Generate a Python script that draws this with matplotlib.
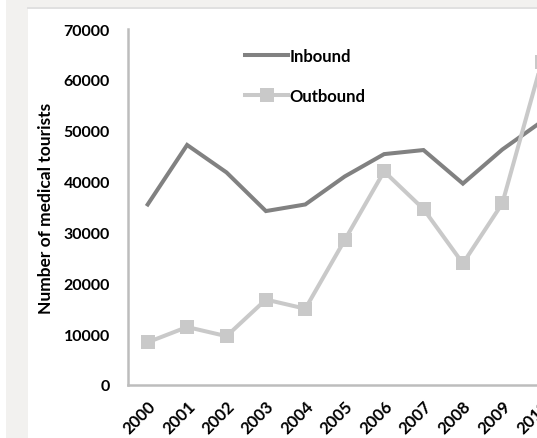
import matplotlib
matplotlib.use("Agg")
import matplotlib.pyplot as plt
from matplotlib.patches import Rectangle
from matplotlib.lines import Line2D

# annual medical tourist counts
years = ["2000", "2001", "2002", "2003", "2004", "2005",
         "2006", "2007", "2008", "2009", "2010"]
inbound = [35500, 47200, 41800, 34200, 35500, 41000,
           45400, 46200, 39600, 46300, 51800]
outbound = [8400, 11400, 9600, 16800, 15000, 28500,
            42000, 34600, 23900, 35700, 63500]
yticks = [0, 10000, 20000, 30000, 40000, 50000, 60000, 70000]

W, H = 537, 439
plt.rcParams['font.family'] = ['Lato', 'DejaVu Sans']
fig = plt.figure(figsize=(W / 100, H / 100), dpi=100)
fig.patch.set_facecolor('white')

# grey page margin around the white panel
bg = '#f2f1ef'
fig.patches.append(Rectangle((6 / W, 0), 22 / W, 1, transform=fig.transFigure,
                             facecolor=bg, edgecolor='none', zorder=0))
fig.patches.append(Rectangle((6 / W, 1 - 8 / H), 1, 8 / H, transform=fig.transFigure,
                             facecolor=bg, edgecolor='none', zorder=0))
fig.add_artist(Line2D([28 / W, 1], [1 - 8.5 / H, 1 - 8.5 / H], transform=fig.transFigure,
                      color='#dadada', lw=1.2))

left, bottom, top = 128, 386, 30
slot = 39.4
ax = fig.add_axes([left / W, (H - bottom) / H, 11 * slot / W, (bottom - top) / H])
ax.set_facecolor('none')

x = list(range(len(years)))
ax.plot(x, inbound, color='#818181', lw=2.9, label='Inbound', solid_joinstyle='miter')
ax.plot(x, outbound, color='#c9c9c9', lw=2.9, marker='s', markersize=10,
        markeredgewidth=0, label='Outbound')

ax.set_xlim(-0.5, 10.5)
ax.set_ylim(0, 70000)
ax.set_yticks(yticks)
ax.set_yticklabels([str(v) for v in yticks])
ax.set_xticks(x)
ax.set_xticklabels(years, rotation=45, ha='right', rotation_mode='anchor')

for s in ['top', 'right']:
    ax.spines[s].set_visible(False)
for s in ['left', 'bottom']:
    ax.spines[s].set_color('#bdbdbd')
    ax.spines[s].set_linewidth(1.8)

ax.tick_params(axis='both', length=0, labelsize=11.5, colors='black')
ax.tick_params(axis='y', pad=13)
ax.tick_params(axis='x', labelsize=12, pad=9)
for t in ax.get_xticklabels() + ax.get_yticklabels():
    t.set_fontweight('bold')

ax.set_ylabel('Number of medical tourists', fontsize=12.5, fontweight='bold', labelpad=7)

ax.legend(loc='upper left', bbox_to_anchor=(0.235, 0.99), frameon=False,
          prop={'size': 12, 'weight': 'bold'}, handlelength=2.6, handletextpad=0.1,
          labelspacing=1.45)

fig.savefig('out.png', dpi=100)
